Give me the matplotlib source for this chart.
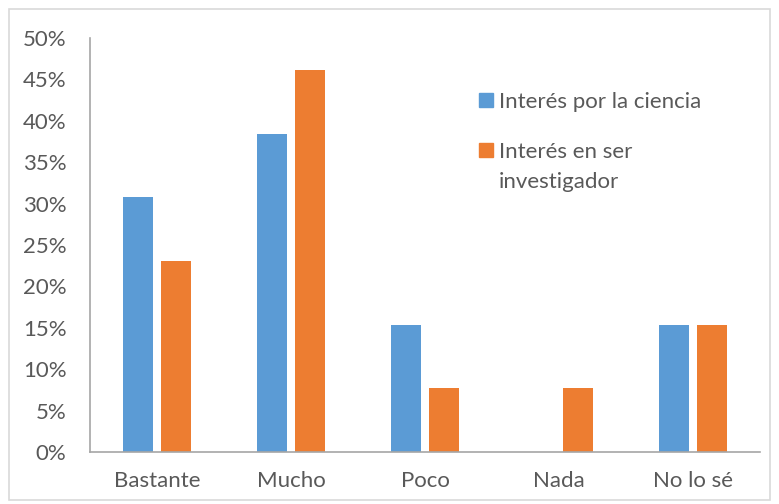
import matplotlib.pyplot as plt
from matplotlib.patches import Rectangle
from matplotlib.ticker import PercentFormatter

categories = ["Bastante", "Mucho", "Poco", "Nada", "No lo sé"]
ciencia = [30.77, 38.46, 15.38, 0.0, 15.38]
investigador = [23.08, 46.15, 7.69, 7.69, 15.38]
series_names = ["Interés por la ciencia", "Interés en ser\ninvestigador"]

BLUE = "#5B9BD5"
ORANGE = "#ED7D31"
TEXT = "#595959"
FS = 16

plt.rcParams['font.family'] = ['Lato', 'DejaVu Sans']

fig = plt.figure(figsize=(7.79, 5.04), dpi=100)
ax = fig.add_axes([90 / 779, 52 / 504, 670 / 779, 414 / 504])

x = list(range(len(categories)))
w = 0.224
ax.bar([i - 0.142 for i in x], ciencia, width=w, color=BLUE)
ax.bar([i + 0.142 for i in x], investigador, width=w, color=ORANGE)

ax.set_xlim(-0.5, len(categories) - 0.5)
ax.set_ylim(0, 50)
ax.set_yticks(range(0, 51, 5))
ax.yaxis.set_major_formatter(PercentFormatter(decimals=0))
ax.set_xticks(x)
ax.set_xticklabels(categories)
ax.tick_params(axis='both', length=0, labelsize=FS, colors=TEXT)
ax.tick_params(axis='y', pad=17)
ax.tick_params(axis='x', pad=14)

for s in ["top", "right"]:
    ax.spines[s].set_visible(False)
for s in ["left", "bottom"]:
    ax.spines[s].set_color("#A6A6A6")
    ax.spines[s].set_linewidth(1.2)

# legend, drawn by hand so the square sits on the first line
for color, name, ypix in [(BLUE, series_names[0], 100), (ORANGE, series_names[1], 150)]:
    fig.add_artist(Rectangle((479 / 779, 1 - (ypix + 7) / 504), 14 / 779, 14 / 504,
                             transform=fig.transFigure, color=color))
    for k, line in enumerate(name.split("\n")):
        fig.text(499 / 779, 1 - (ypix + 30 * k) / 504, line, fontsize=FS,
                 color=TEXT, va="center_baseline")

# outer border
fig.add_artist(Rectangle((9 / 779, 4 / 504), 761 / 779, 491 / 504, transform=fig.transFigure,
                         fill=False, edgecolor="#D9D9D9", linewidth=1.2))

fig.savefig("out.png", dpi=100)
